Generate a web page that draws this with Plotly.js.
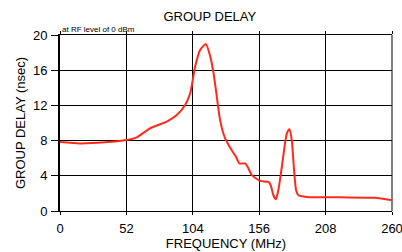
<!DOCTYPE html>
<html><head><meta charset="utf-8">
<script src="https://cdn.plot.ly/plotly-3.0.1.min.js"></script>
<style>body{margin:0;background:#fff}#c{width:402px;height:252px}</style>
</head><body><div id="c"></div>
<script>
const freqMHz = [0, 15.7, 35, 52, 60.1, 70.5, 83.6, 91.4, 98, 102, 105.8, 109.7, 114.2, 117.6, 120.2, 122.8, 125.4, 129.3, 134.5, 137.9, 140.5, 145, 147.6, 150.2, 156.7, 163.2, 165, 167.1, 169, 171, 173.7, 177.6, 179.7, 181.5, 183.3, 184.9, 186.7, 193.3, 220, 246.3, 260];
const delayNs = [7.83, 7.68, 7.8, 8.06, 8.37, 9.4, 10.15, 10.9, 12.05, 13.4, 16.4, 18.3, 18.97, 17.6, 15.7, 13.0, 10.3, 8.25, 6.9, 6.15, 5.4, 5.4, 4.83, 4.07, 3.42, 3.3, 2.93, 1.79, 1.33, 2.36, 5.0, 8.8, 9.3, 8.06, 4.64, 2.36, 1.79, 1.6, 1.55, 1.5, 1.22];
const xTicks = [0, 52, 104, 156, 208, 260];
const yTicks = [0, 4, 8, 12, 16, 20];

Plotly.newPlot('c', [{
  x: freqMHz, y: delayNs, type: 'scatter', mode: 'lines',
  line: {color: '#ff2a1a', width: 2, shape: 'spline', smoothing: 0.6},
  hoverinfo: 'skip', cliponaxis: false
}], {
  width: 402, height: 252,
  margin: {l: 60, r: 10, t: 35, b: 41},
  paper_bgcolor: '#fff', plot_bgcolor: '#fff',
  font: {family: 'Liberation Sans, Arial, sans-serif', color: '#000', size: 13},
  title: {text: 'GROUP DELAY', x: 0.522, xanchor: 'center', y: 0.935, yanchor: 'middle', font: {size: 13}},
  showlegend: false,
  xaxis: {
    range: [0, 260], tickvals: xTicks, ticktext: xTicks.map(String),
    showgrid: true, gridcolor: '#000000', gridwidth: 1,
    showline: true, linecolor: '#000', linewidth: 1, mirror: 'all',
    ticks: 'outside', ticklen: 3, tickcolor: '#000', ticklabelstandoff: 2,
    zeroline: false, tickfont: {size: 13}, ticklabeloverflow: 'allow',
    title: {text: 'FREQUENCY (MHz)', font: {size: 13}, standoff: 4}
  },
  yaxis: {
    range: [0, 20], tickvals: yTicks, ticktext: yTicks.map(String),
    showgrid: true, gridcolor: '#000000', gridwidth: 1,
    showline: true, linecolor: '#000', linewidth: 2,
    ticks: 'outside', ticklen: 7, tickcolor: '#000', ticklabelstandoff: 1,
    zeroline: false, tickfont: {size: 13},
    title: {text: 'GROUP DELAY (nsec)', font: {size: 13}, standoff: 4}
  },
  shapes: [{type: 'line', xref: 'paper', yref: 'paper', x0: 1, x1: 1, y0: 0, y1: 1,
    line: {color: '#000', width: 1}, layer: 'below'}],
  annotations: [{
    text: 'at RF level of 0 dBm', xref: 'paper', yref: 'paper', x: 0, y: 1,
    xanchor: 'left', yanchor: 'bottom', showarrow: false, font: {size: 8}, yshift: -1
  }]
}, {staticPlot: true});
</script></body></html>
